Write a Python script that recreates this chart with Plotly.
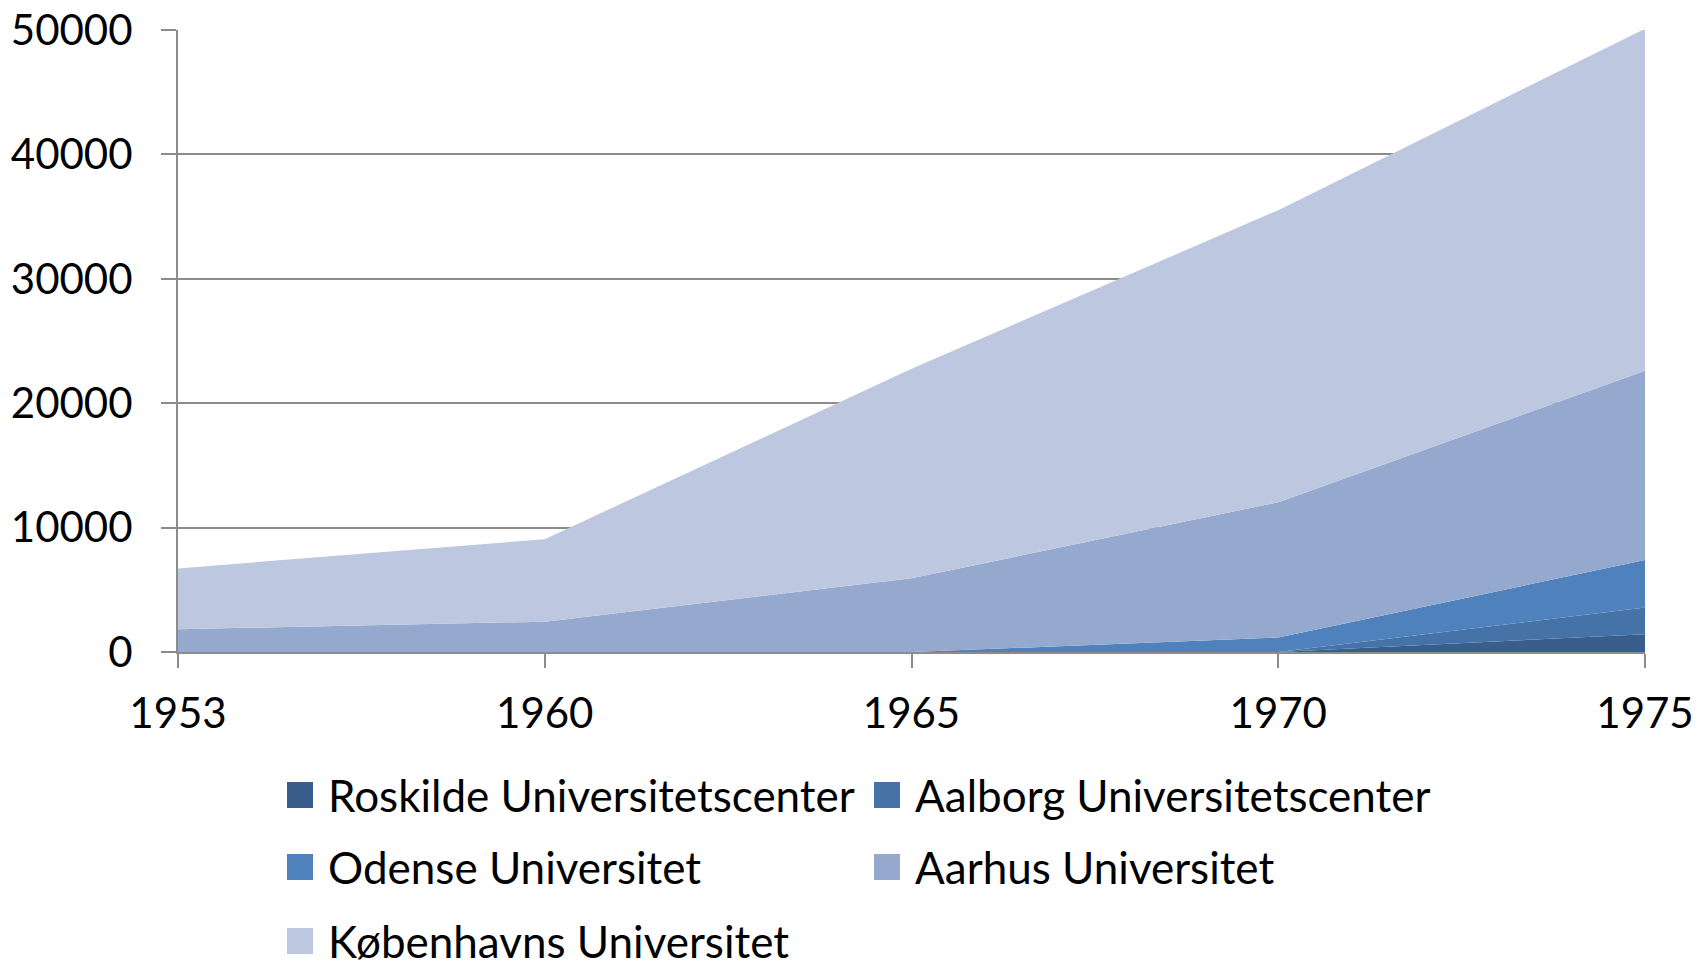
import plotly.graph_objects as go

years = ["1953", "1960", "1965", "1970", "1975"]
roskilde = [0, 0, 0, 0, 1430]
aalborg = [0, 0, 0, 0, 2140]
odense = [0, 0, 0, 1160, 3830]
aarhus = [1830, 2440, 5930, 10880, 15200]
kobenhavn = [4890, 6630, 16840, 23480, 27500]

names = ["Roskilde Universitetscenter", "Aalborg Universitetscenter",
         "Odense Universitet", "Aarhus Universitet", "Københavns Universitet"]
series = [roskilde, aalborg, odense, aarhus, kobenhavn]
colors = ["rgb(58,94,140)", "rgb(69,115,167)", "rgb(79,129,189)",
          "rgb(149,169,207)", "rgb(189,200,224)"]

W, H = 1700, 966
L, R, T, B = 170, 63, 22, 322
pw, ph = W - L - R, H - T - B

fig = go.Figure()
for n, s, c in zip(names, series, colors):
    fig.add_trace(go.Scatter(
        x=years, y=s, name=n, stackgroup="one", mode="none",
        fillcolor=c, line=dict(width=0), showlegend=False,
    ))

font = "Lato, 'Open Sans', sans-serif"

# legend (two columns, three rows) built in paper coordinates
col_x = [279, 866]
row_y = [787, 859, 933]
sq = 26
def px(x):
    return (x - L) / pw
def py(y):
    return (H - B - y) / ph

for i, (n, c) in enumerate(zip(names, colors)):
    col, row = i % 2, i // 2
    x0, yc = col_x[col], row_y[row]
    fig.add_shape(type="rect", xref="paper", yref="paper",
                  x0=px(x0), x1=px(x0 + sq), y0=py(yc + sq / 2), y1=py(yc - sq / 2),
                  fillcolor=c, line=dict(width=0))
    fig.add_annotation(xref="paper", yref="paper", x=px(x0 + sq + 13), y=py(yc),
                       xanchor="left", yanchor="middle", text=n, showarrow=False,
                       font=dict(family=font, size=44, color="black"))

fig.update_layout(
    width=W, height=H,
    paper_bgcolor="white", plot_bgcolor="white",
    margin=dict(l=L, r=R, t=T, b=B),
    font=dict(family=font, size=42, color="black"),
    showlegend=False,
    xaxis=dict(type="category", range=[0, 4], showgrid=False, automargin=False,
               showline=True, linecolor="#8c8c8c", linewidth=2,
               ticks="outside", ticklen=14, tickcolor="#8c8c8c", tickwidth=2,
               tickfont=dict(size=42), ticklabelstandoff=10,
               ticklabeloverflow="allow"),
    yaxis=dict(range=[0, 50000], dtick=10000, tickformat="d", showgrid=True,
               automargin=False, ticklabeloverflow="allow",
               gridcolor="#8c8c8c", gridwidth=1.5,
               showline=True, linecolor="#8c8c8c", linewidth=2,
               ticks="outside", ticklen=15, tickcolor="#8c8c8c", tickwidth=1.5,
               tickfont=dict(size=42), zeroline=False, ticklabelstandoff=20),
)

fig.write_html("out.html")
